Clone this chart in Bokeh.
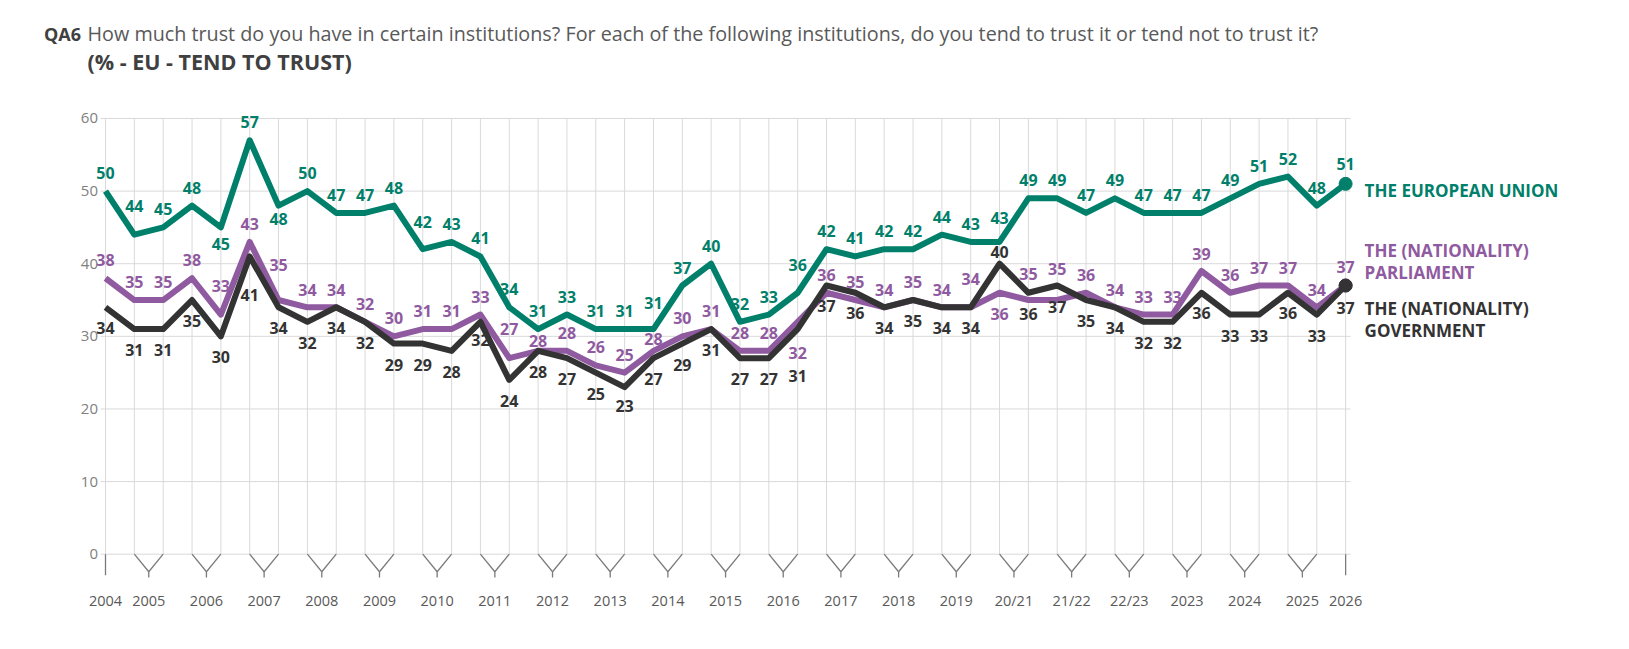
import numpy as np
from bokeh.plotting import figure
from bokeh.models import LinearAxis, FixedTicker, ColumnDataSource
from bokeh.embed import file_html
from bokeh.resources import INLINE
from bokeh.core.properties import value

# ---------------- data ----------------
periods = ["2004", "2005", "2006", "2007", "2008", "2009", "2010", "2011", "2012",
           "2013", "2014", "2015", "2016", "2017", "2018", "2019", "20/21", "21/22",
           "22/23", "2023", "2024", "2025", "2026"]
waves_per_period = [1] + [2] * 21 + [1]

eu = [50, 44, 45, 48, 45, 57, 48, 50, 47, 47, 48, 42, 43, 41, 34, 31, 33, 31, 31, 31, 37, 40,
      32, 33, 36, 42, 41, 42, 42, 44, 43, 43, 49, 49, 47, 49, 47, 47, 47, 49, 51, 52, 48, 51]
parliament = [38, 35, 35, 38, 33, 43, 35, 34, 34, 32, 30, 31, 31, 33, 27, 28, 28, 26, 25, 28, 30, 31,
              28, 28, 32, 36, 35, 34, 35, 34, 34, 36, 35, 35, 36, 34, 33, 33, 39, 36, 37, 37, 34, 37]
government = [34, 31, 31, 35, 30, 41, 34, 32, 34, 32, 29, 29, 28, 32, 24, 28, 27, 25, 23, 27, 29, 31,
              27, 27, 31, 37, 36, 34, 35, 34, 34, 40, 36, 37, 35, 34, 32, 32, 36, 33, 33, 36, 33, 37]

series_names = ["THE EUROPEAN UNION", "THE (NATIONALITY)\nPARLIAMENT", "THE (NATIONALITY)\nGOVERNMENT"]

# label placement (pixel offsets, negative = above the point)
eu_label_dy = [-18, -29, -18, -18, 17, -18, 13, -18, -18, -18, -18, -27, -18, -18, -18, -18, -18, -18,
               -18, -26, -18, -18, -18, -18, -28, -18, -18, -18, -18, -18, -18, -24, -18, -18, -18, -18,
               -18, -18, -18, -18, -18, -18, -18, -20]
parl_label_dy = [-18, -18, -18, -18, -29, -18, -35, -17, -17, -18, -18, -18, -18, -18, -29, -10, -18, -18,
                 -18, -12, -18, -18, -18, -18, 31, -18, -18, -17, -18, -17, -28, 21, -26, -31, -18, -17,
                 -18, -18, -17, -18, -18, -18, -17, -19]
gov_label_dy = [21, 21, 21, 21, 21, 39, 21, 21, 21, 21, 21, 21, 21, 18, 21, 21, 21, 21, 19, 21, 21, 21,
                21, 21, 47, 20, 20, 21, 21, 21, 21, -12, 21, 21, 21, 21, 21, 21, 20, 21, 21, 20, 21, 22]

# ---------------- styling ----------------
GREEN = "#00806A"
PURPLE = "#8F5AA0"
DARK = "#333333"
GRID = "#D9D9D9"
FONT = "Open Sans"

W, H = 1610, 630
PAGE_OX, PAGE_OY = 0.0, -2.0     # where the canvas' top-left lands on the screenshot
X0_PX, DX_PX = 105.0, 28.84      # screenshot px of first wave, px per wave
Y0_PX, DY_PX = 551.7, 7.262      # screenshot px of 0 %, px per %


def px2x(px):
    return (px - X0_PX) / DX_PX


def px2y(py):
    return (Y0_PX - py) / DY_PX


p = figure(width=W, height=H, output_backend="svg", toolbar_location=None,
           x_range=(px2x(PAGE_OX), px2x(PAGE_OX + W)), y_range=(px2y(PAGE_OY + H), px2y(PAGE_OY)),
           x_axis_location=None, y_axis_location=None, min_border=0)
p.outline_line_color = None
p.grid.visible = False
p.background_fill_color = "white"
p.border_fill_color = "white"

n = len(eu)
xs = list(range(n))
ymax = 60
yticks = list(range(0, ymax + 1, 10))

# grid lines
p.segment(x0=xs, y0=[0] * n, x1=xs, y1=[ymax] * n, line_color=GRID, line_width=1)
p.segment(x0=[-0.17] * len(yticks), y0=yticks, x1=[n - 1 + 0.17] * len(yticks), y1=yticks,
          line_color=GRID, line_width=1)

# category brackets
starts = np.cumsum([0] + waves_per_period[:-1])
bx0, by0, bx1, by1 = [], [], [], []
tick_pos = []
for s, k in zip(starts, waves_per_period):
    s = int(s)
    if k == 1:
        bx0 += [s]; by0 += [0]; bx1 += [s]; by1 += [-2.9]
        tick_pos.append(s)
    else:
        mid = s + (k - 1) / 2
        bx0 += [s, s + k - 1, mid]; by0 += [0, 0, -2.42]
        bx1 += [mid, mid, mid]; by1 += [-2.42, -2.42, -3.21]
        tick_pos.append(mid)
p.segment(x0=bx0, y0=by0, x1=bx1, y1=by1, line_color="#7A7A7A", line_width=1.3)

# axes
yax = LinearAxis(fixed_location=px2x(100.5), ticker=FixedTicker(ticks=yticks),
                 axis_line_color=None, major_tick_line_color=None, minor_tick_line_color=None,
                 major_tick_in=0, major_tick_out=0, major_label_standoff=3,
                 major_label_text_font=FONT, major_label_text_font_size="15px",
                 major_label_text_color="#808080")
p.add_layout(yax, "left")

tick_keys = [int(t) if float(t).is_integer() else float(t) for t in tick_pos]
overrides = dict(zip(tick_keys, periods))
xax = LinearAxis(fixed_location=0, ticker=FixedTicker(ticks=tick_keys),
                 major_label_overrides=overrides,
                 axis_line_color=None, major_tick_line_color=None, minor_tick_line_color=None,
                 major_tick_in=0, major_tick_out=0, major_label_standoff=37,
                 major_label_text_font=FONT, major_label_text_font_size="14.5px",
                 major_label_text_color="#595959")
p.add_layout(xax, "below")

# lines
for vals, col in [(parliament, PURPLE), (government, DARK), (eu, GREEN)]:
    p.line(xs, vals, line_color=col, line_width=6, line_join="round")
    p.scatter([xs[-1]], [vals[-1]], size=13, fill_color=col, line_color=col)

for vals, col, dys in [(eu, GREEN, eu_label_dy), (parliament, PURPLE, parl_label_dy), (government, DARK, gov_label_dy)]:
    src = ColumnDataSource(dict(x=xs, y=vals, t=[str(v) for v in vals], dy=dys))
    p.text(x="x", y="y", text="t", y_offset="dy", source=src, text_align="center",
           text_baseline="middle", text_color=col, text_font=value(FONT),
           text_font_style="bold", text_font_size="16px")

# series names at the line ends
name_specs = [(eu, GREEN, series_names[0], [7]),
              (parliament, PURPLE, series_names[1], [-34.7, -13]),
              (government, DARK, series_names[2], [22.7, 45.3])]
for vals, col, name, offs in name_specs:
    parts = name.split("\n")
    src = ColumnDataSource(dict(x=[xs[-1]] * len(parts), y=[vals[-1]] * len(parts), t=parts, dy=offs))
    p.text(x="x", y="y", text="t", y_offset="dy", x_offset=19, source=src, text_align="left",
           text_baseline="middle", text_color=col, text_font=value(FONT),
           text_font_style="bold", text_font_size="17px")

# title
p.text(x=[px2x(43.5)], y=[px2y(31.3)], text=["QA6"], text_align="left", text_baseline="middle",
       text_color="#404040", text_font=value(FONT), text_font_style="bold", text_font_size="18px")
p.text(x=[px2x(87)], y=[px2y(31.3)],
       text=["How much trust do you have in certain institutions? For each of the following institutions, do you tend to trust it or tend not to trust it?"],
       text_align="left", text_baseline="middle", text_color="#595959", text_font=value(FONT),
       text_font_size="19.75px")
p.text(x=[px2x(87)], y=[px2y(59)], text=["(% - EU - TEND TO TRUST)"], text_align="left",
       text_baseline="middle", text_color="#404040", text_font=value(FONT), text_font_style="bold",
       text_font_size="21.5px")

open("out.html", "w").write(file_html(p, INLINE))
